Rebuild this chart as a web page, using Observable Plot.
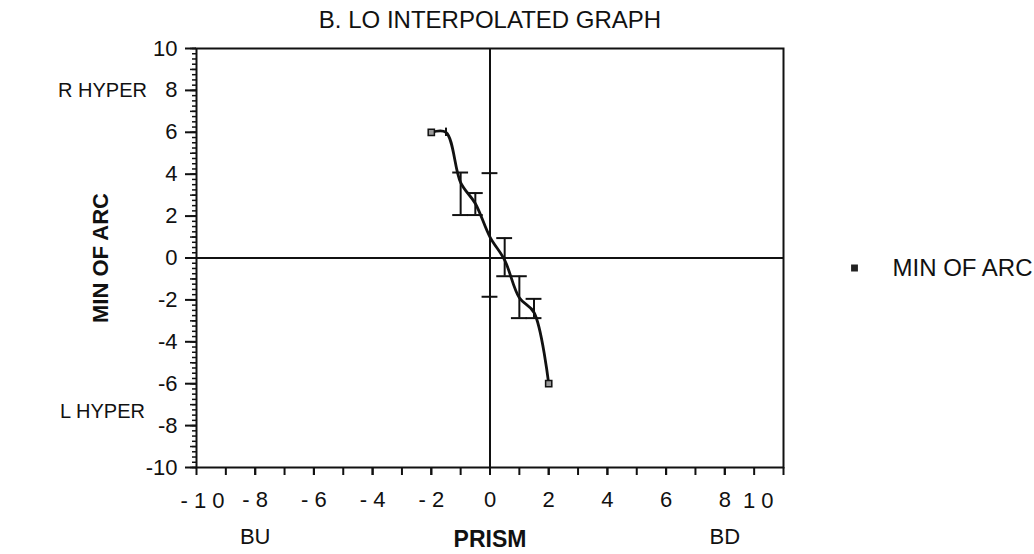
<!DOCTYPE html>
<html><head><meta charset="utf-8">
<script src="https://cdn.jsdelivr.net/npm/d3@7"></script>
<script src="https://cdn.jsdelivr.net/npm/@observablehq/plot@0.6"></script>
<style>
body{margin:0;background:#fff;}
svg{font-family:"Liberation Sans",Arial,Helvetica,sans-serif;}
</style>
</head><body><div id="chart"></div>
<script>
// ---- data ----
const prism    = [-2, -1.5, -1, -0.5, 0, 0.5, 1, 1.5, 2];
const minOfArc = [6, 6, 3.6, 2.6, 1.0, -0.1, -1.9, -2.6, -6];
const errLow   = [null, 5.8, 2.05, 2.05, -1.85, -0.87, -2.87, -2.87, null];
const errHigh  = [null, 6.2, 4.08, 3.1, 4.05, 0.95, -0.87, -1.95, null];

const xTicks      = [-8, -6, -4, -2, 0, 2, 4, 6, 8];
const xTickLabels = ["- 8", "- 6", "- 4", "- 2", "0", "2", "4", "6", "8"];
const xEdgeTicks  = [-10, 10];
const xEdgeLabels = ["- 1 0", "1 0"];
const yTicks      = [10, 8, 6, 4, 2, 0, -2, -4, -6, -8, -10];
const yTickLabels = ["10", "8", "6", "4", "2", "0", "-2", "-4", "-6", "-8", "-10"];

const title = "B. LO INTERPOLATED GRAPH";
const yTitle = "MIN OF ARC";
const xTitle = "PRISM";
const sideLabels = [{label: "R HYPER", y: 8}, {label: "L HYPER", y: -7.35}];
const bottomLabels = [{label: "BU", x: -8}, {label: "BD", x: 8}];
const legendLabel = "MIN OF ARC";

// ---- build ----
const xLab = new Map(xTicks.map((t, i) => [t, xTickLabels[i]]));
const yLab = new Map(yTicks.map((t, i) => [t, yTickLabels[i]]));
const edgeLeft = [{x: xEdgeTicks[0], label: xEdgeLabels[0]}];
const edgeRight = [{x: xEdgeTicks[1], label: xEdgeLabels[1]}];
const data = prism.map((x, i) => ({x, y: minOfArc[i], lo: errLow[i], hi: errHigh[i]}));
const bars = data.filter(d => d.lo != null);
const capped = bars.filter(d => d.hi - d.lo > 0.5);
const capHalf = 0.27;
const caps = capped.flatMap(d => [{x: d.x, y: d.lo}, {x: d.x, y: d.hi}]);
const ends = [data[0], data[data.length - 1]];
const FS = 22;

const chart = Plot.plot({
  width: 1034, height: 554,
  marginLeft: 196, marginRight: 251, marginTop: 48, marginBottom: 87,
  x: {domain: [-10, 10], label: null},
  y: {domain: [-10, 10], label: null},
  style: {fontSize: FS + "px", fontFamily: "'Liberation Sans', Arial, sans-serif", color: "#111", background: "#fff"},
  marks: [
    Plot.axisY({ticks: d3.range(-10, 10.001, 0.25), tickSize: 4, tickFormat: () => "", label: null, strokeWidth: 1.5}),
    Plot.axisY({ticks: d3.range(-10, 11, 1), tickSize: 6, tickFormat: () => "", label: null, strokeWidth: 1.5}),
    Plot.axisY({ticks: yTicks, tickSize: 11, tickPadding: 8, tickFormat: d => yLab.get(d), label: null, strokeWidth: 2, fontSize: FS}),
    Plot.axisX({ticks: d3.range(-10, 11, 1), tickSize: 8, tickFormat: () => "", label: null, strokeWidth: 2}),
    Plot.axisX({ticks: xTicks, tickSize: 8, tickPadding: 16, tickFormat: d => xLab.get(d), label: null, strokeWidth: 2, fontSize: FS}),
    Plot.text(edgeLeft, {x: "x", text: "label", frameAnchor: "bottom", lineAnchor: "middle", dy: 33, dx: -16, textAnchor: "start", fontSize: FS}),
    Plot.text(edgeRight, {x: "x", text: "label", frameAnchor: "bottom", lineAnchor: "middle", dy: 33, dx: -10, textAnchor: "end", fontSize: FS}),
    Plot.frame({strokeWidth: 2, stroke: "#111"}),
    Plot.ruleX([0], {strokeWidth: 2, stroke: "#111"}),
    Plot.ruleY([0], {strokeWidth: 2, stroke: "#111"}),
    Plot.ruleX(bars, {x: "x", y1: "lo", y2: "hi", strokeWidth: 2, stroke: "#111"}),
    Plot.ruleY(caps, {y: "y", x1: d => d.x - capHalf, x2: d => d.x + capHalf, strokeWidth: 2, stroke: "#111"}),
    Plot.line(data, {x: "x", y: "y", curve: "catmull-rom", strokeWidth: 2.8, stroke: "#111"}),
    Plot.dot(ends, {x: "x", y: "y", symbol: "square", r: 3.5, fill: "#999", stroke: "#111", strokeWidth: 1.5}),
    Plot.text([title], {frameAnchor: "top", lineAnchor: "middle", dy: -28, fontSize: 24}),
    Plot.text(sideLabels, {y: "y", text: "label", frameAnchor: "left", dx: -94, textAnchor: "middle", fontSize: 20}),
    Plot.text([yTitle], {frameAnchor: "left", dx: -96, rotate: -90, textAnchor: "middle", fontSize: FS, fontWeight: "bold"}),
    Plot.text(bottomLabels, {x: "x", text: "label", frameAnchor: "bottom", lineAnchor: "middle", dy: 69, fontSize: FS}),
    Plot.text([xTitle], {frameAnchor: "bottom", lineAnchor: "middle", dy: 72, fontSize: 23, fontWeight: "bold"}),
    Plot.dot([{y: 0}], {y: "y", frameAnchor: "right", dx: 71, dy: 10, symbol: "square", r: 3, fill: "#222", stroke: "#222"}),
    Plot.text([{y: 0, label: legendLabel}], {y: "y", text: "label", frameAnchor: "right", dx: 109, dy: 10, textAnchor: "start", fontSize: 24})
  ]
});
document.getElementById("chart").append(chart);
</script>
</body></html>
